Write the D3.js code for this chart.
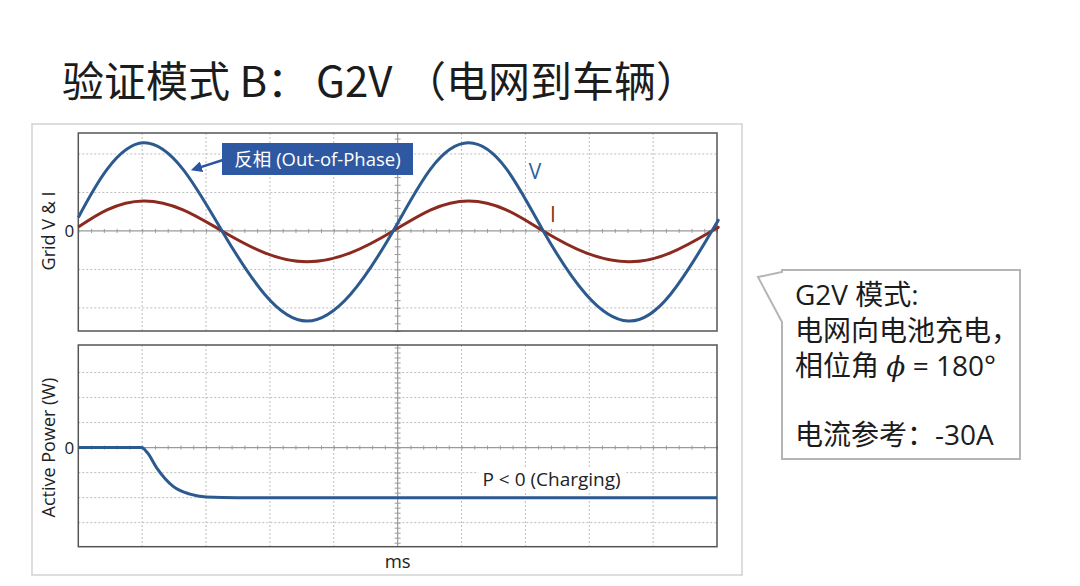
<!DOCTYPE html>
<html>
<head>
  <meta charset="utf-8">
  <script src="https://d3js.org/d3.v7.min.js"></script>
  <style>
    body { margin: 0; background: #fff; overflow: hidden; }
    svg { display: block; }
    text { font-family: "Open Sans", "Noto Sans CJK SC", sans-serif; }
  </style>
  <title>G2V</title>
</head>
<body>
  <script>
    // values (x in grid divisions, 0..10)
    const waveT = [0, 0.45, 1.02, 1.64, 2.25, 2.92, 3.58, 4.26, 4.93, 5.52, 6.11, 6.70, 7.28, 7.95, 8.61, 9.27, 9.92, 10];
    const gridV = [0.35, 1.60, 2.29, 1.60, 0, -1.65, -2.34, -1.65, 0, 1.62, 2.29, 1.62, 0, -1.65, -2.34, -1.65, 0, 0.22];
    const gridI = [0.10, 0.55, 0.78, 0.55, 0, -0.57, -0.80, -0.57, 0, 0.55, 0.78, 0.55, 0, -0.57, -0.80, -0.57, 0, 0.07];

    const powerT = [0, 0.99, 1.08, 1.23, 1.49, 1.75, 2.0, 2.5, 10];
    const powerW = [0, 0, -0.2, -0.82, -1.56, -1.86, -1.97, -2.0, -2.0];

    const topGrid = [-2, -1, 1, 2];
    const botGrid = [-3, -2, -1, 1, 2, 3];
    const xGrid = [1, 2, 3, 4, 6, 7, 8, 9];

    const blue = "#2c5a8e", red = "#8c2a20";

    const svg = d3.select("body").append("svg")
      .attr("width", 1080).attr("height", 586);

    // title
    const title = svg.append("text")
      .attr("y", 97)
      .attr("font-size", 42)
      .attr("fill", "#1c1c1c")
      .style("font-family", "'Noto Sans CJK SC', sans-serif");
    title.append("tspan").attr("x", 62).text("验证模式 B：");
    title.append("tspan").attr("x", 316).text("G2V");
    title.append("tspan").attr("x", 404).text("（电网到车辆）");

    // outer frame
    svg.append("rect")
      .attr("x", 32).attr("y", 124).attr("width", 710).attr("height", 451)
      .attr("fill", "none").attr("stroke", "#d2d2d2").attr("stroke-width", 1.5);

    const x = d3.scaleLinear().domain([0, 10]).range([78.3, 717]);
    const yTop = d3.scaleLinear().domain([-2.6, 2.545]).range([331, 133]);
    const yBot = d3.scaleLinear().domain([-3.96, 4.1]).range([546.7, 345]);

    function panel(y, hGrid, minorStep, label) {
      const g = svg.append("g");
      const [y0, y1] = y.range();
      // dotted grid
      g.selectAll(".vg").data(xGrid).enter().append("line")
        .attr("x1", d => x(d)).attr("x2", d => x(d))
        .attr("y1", y1).attr("y2", y0)
        .attr("stroke", "#bdbdbd").attr("stroke-dasharray", "2,2");
      g.selectAll(".hg").data(hGrid).enter().append("line")
        .attr("x1", x(0)).attr("x2", x(10))
        .attr("y1", d => y(d)).attr("y2", d => y(d))
        .attr("stroke", "#bdbdbd").attr("stroke-dasharray", "2,2");
      // center axes
      g.append("line").attr("x1", x(0)).attr("x2", x(10))
        .attr("y1", y(0)).attr("y2", y(0)).attr("stroke", "#9a9a9a").attr("stroke-width", 1.2);
      g.append("line").attr("x1", x(5)).attr("x2", x(5))
        .attr("y1", y1).attr("y2", y0).attr("stroke", "#9a9a9a").attr("stroke-width", 1.2);
      // minor ticks
      g.append("g").attr("transform", "translate(0," + (y(0) - 2) + ")")
        .call(d3.axisBottom(x).tickValues(d3.range(0, 10.01, 0.2)).tickSize(4).tickFormat(""))
        .call(s => s.select(".domain").remove())
        .selectAll("line").attr("stroke", "#9a9a9a");
      const dom = y.domain();
      g.append("g").attr("transform", "translate(" + (x(5) - 3) + ",0)")
        .call(d3.axisRight(y).tickValues(d3.range(Math.ceil(dom[0] / minorStep) * minorStep, dom[1], minorStep)).tickSize(6).tickFormat(""))
        .call(s => s.select(".domain").remove())
        .selectAll("line").attr("stroke", "#9a9a9a");
      // zero label
      g.append("g").attr("transform", "translate(" + x(0) + ",0)")
        .call(d3.axisLeft(y).tickValues([0]).tickSize(0).tickPadding(4).tickFormat(d3.format("d")))
        .call(s => s.select(".domain").remove())
        .selectAll("text").attr("font-size", 17).attr("fill", "#222")
        .style("font-family", "'Open Sans', sans-serif");
      // frame
      g.append("rect").attr("x", x(0)).attr("y", y1)
        .attr("width", x(10) - x(0)).attr("height", y0 - y1)
        .attr("fill", "none").attr("stroke", "#555").attr("stroke-width", 1.5);
      // y label
      g.append("text")
        .attr("transform", "translate(55," + y(0) + ") rotate(-90)")
        .attr("text-anchor", "middle").attr("font-size", 18).attr("fill", "#222")
        .text(label);
      return g;
    }

    panel(yTop, topGrid, 0.2, "Grid V & I");
    panel(yBot, botGrid, 0.2, "Active Power (W)");

    // waves
    const waveLine = vals => d3.line()
      .x((d, i) => x(waveT[i]))
      .y(d => yTop(d))
      .curve(d3.curveNatural)(vals);

    svg.append("path").attr("d", waveLine(gridI))
      .attr("fill", "none").attr("stroke", red).attr("stroke-width", 3);
    svg.append("path").attr("d", waveLine(gridV))
      .attr("fill", "none").attr("stroke", blue).attr("stroke-width", 3);

    svg.append("text").attr("x", x(7.15)).attr("y", yTop(1.36))
      .attr("font-size", 21).attr("fill", "#2f5f9a").attr("text-anchor", "middle").text("V");
    svg.append("text").attr("x", x(7.43)).attr("y", yTop(0.22))
      .attr("font-size", 21).attr("fill", red).attr("text-anchor", "middle").text("I");

    // out-of-phase note
    svg.append("defs").append("marker")
      .attr("id", "ah").attr("viewBox", "0 0 10 10").attr("refX", 3).attr("refY", 5)
      .attr("markerWidth", 4.5).attr("markerHeight", 4.5).attr("orient", "auto")
      .append("path").attr("d", "M0,0 L10,5 L0,10 Z").attr("fill", "#2b55a0");
    svg.append("line")
      .attr("x1", 223).attr("y1", 160).attr("x2", x(1.88)).attr("y2", yTop(1.64))
      .attr("stroke", "#2b55a0").attr("stroke-width", 2.5).attr("marker-end", "url(#ah)");
    svg.append("rect").attr("x", 222).attr("y", 143).attr("width", 191).attr("height", 32)
      .attr("fill", "#2f58a3");
    svg.append("text").attr("x", 317.5).attr("y", 166)
      .attr("text-anchor", "middle").attr("font-size", 18.5).attr("fill", "#fff")
      .text("反相 (Out-of-Phase)");

    // power
    svg.append("path")
      .attr("d", d3.line().x((d, i) => x(powerT[i])).y(d => yBot(d)).curve(d3.curveMonotoneX)(powerW))
      .attr("fill", "none").attr("stroke", blue).attr("stroke-width", 3);

    const pl = svg.append("text").attr("x", x(7.41)).attr("y", yBot(-1.55))
      .attr("text-anchor", "middle").attr("font-size", 19).attr("fill", "#222")
      .text("P < 0 (Charging)");
    const bb = pl.node().getBBox();
    svg.insert("rect", () => pl.node())
      .attr("x", bb.x - 4).attr("y", bb.y + 2).attr("width", bb.width + 8).attr("height", bb.height - 4)
      .attr("fill", "#fff");

    svg.append("text").attr("x", x(5)).attr("y", 568)
      .attr("text-anchor", "middle").attr("font-size", 18.5).attr("fill", "#222").text("ms");

    // callout
    svg.append("path")
      .attr("d", "M782,270 L1020,270 L1020,459 L782,459 L782,322 L758,277 L782,272 Z")
      .attr("fill", "#fff").attr("stroke", "#b5b5b5").attr("stroke-width", 2)
      .attr("stroke-linejoin", "miter");
    const note = svg.append("g").attr("font-size", 28).attr("fill", "#1c1c1c");
    note.append("text").attr("x", 795).attr("y", 305).text("G2V 模式:");
    note.append("text").attr("x", 795).attr("y", 341).text("电网向电池充电，");
    const ph = note.append("text").attr("x", 795).attr("y", 376);
    ph.append("tspan").text("相位角 ");
    ph.append("tspan").attr("font-style", "italic").style("font-family", "'DejaVu Serif', serif").text("ϕ");
    ph.append("tspan").text(" = 180°");
    note.append("text").attr("x", 795).attr("y", 445).text("电流参考：-30A");
  </script>
</body>
</html>
